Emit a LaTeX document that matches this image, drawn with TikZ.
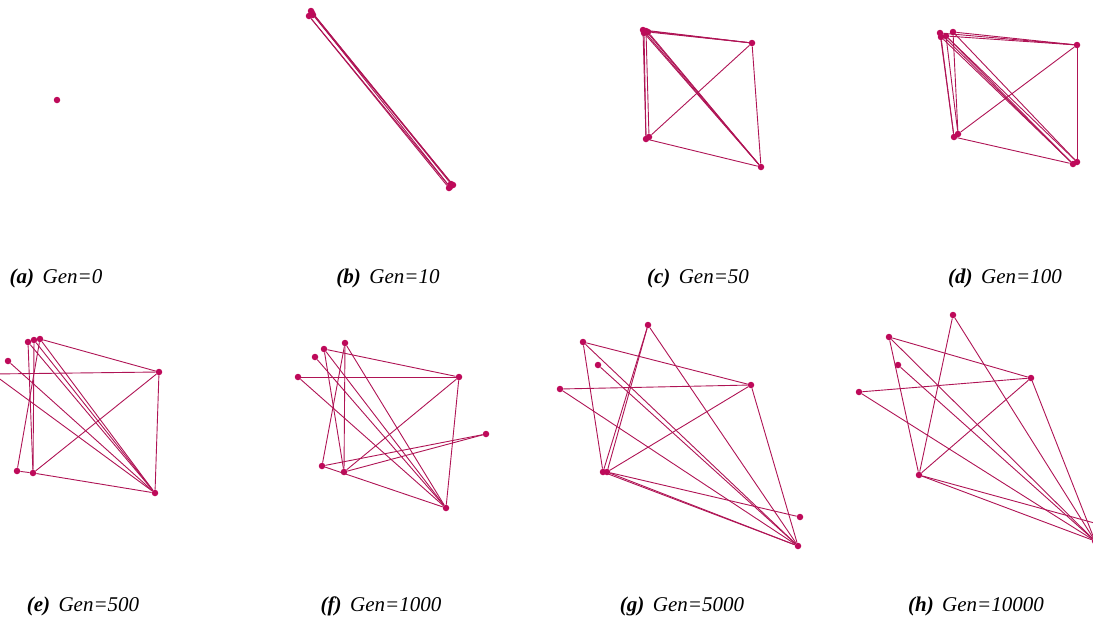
\documentclass[tikz,border=0pt]{standalone}
\usepackage{fontspec}
\setmainfont{Liberation Serif}
\definecolor{graphred}{RGB}{190,10,90}
\definecolor{linered}{RGB}{175,20,85}
\begin{document}
\begin{tikzpicture}[x=1pt,y=-1pt,
    vtx/.style={circle, fill=graphred, inner sep=0pt, minimum size=6.5pt},
    edge/.style={draw=linered, line width=0.9pt},
    lab/.style={font=\fontsize{21}{25}\selectfont\itshape, inner sep=0pt}]
    \useasboundingbox (0,0) rectangle (1093,619);
    % (a) Gen=0
    \node[vtx] (a1) at (57,100) {};
    % (b) Gen=10
    \node[vtx] (b1) at (311,11) {};
    \node[vtx] (b2) at (309,16) {};
    \node[vtx] (b3) at (313,15) {};
    \node[vtx] (b4) at (312,13) {};
    \node[vtx] (b5) at (451,184) {};
    \node[vtx] (b6) at (449,188) {};
    \node[vtx] (b7) at (453,185) {};
    \node[vtx] (b8) at (450,187) {};
    \foreach \s/\t in {b1/b5, b2/b6, b3/b7, b4/b8, b1/b7, b2/b8}
        \draw[edge] (\s) -- (\t);
    % (c) Gen=50
    \node[vtx] (c1) at (643,30) {};
    \node[vtx] (c2) at (646,31) {};
    \node[vtx] (c3) at (644,33) {};
    \node[vtx] (c4) at (648,32) {};
    \node[vtx] (c5) at (752,43) {};
    \node[vtx] (c6) at (646,139) {};
    \node[vtx] (c7) at (649,137) {};
    \node[vtx] (c8) at (761,167) {};
    \foreach \s/\t in {c1/c5, c2/c5, c4/c5, c1/c6, c3/c6, c2/c7, c1/c8, c2/c8,
        c3/c8, c4/c8, c7/c5, c6/c8, c5/c8}
        \draw[edge] (\s) -- (\t);
    % (d) Gen=100
    \node[vtx] (d1) at (940,33) {};
    \node[vtx] (d2) at (941,37) {};
    \node[vtx] (d3) at (946,36) {};
    \node[vtx] (d4) at (953,32) {};
    \node[vtx] (d5) at (1077,45) {};
    \node[vtx] (d6) at (954,137) {};
    \node[vtx] (d7) at (958,134) {};
    \node[vtx] (d8) at (1073,164) {};
    \node[vtx] (d9) at (1077,162) {};
    \foreach \s/\t in {d1/d5, d4/d5, d3/d5, d1/d6, d2/d6, d3/d7, d4/d7, d1/d8,
        d2/d8, d3/d8, d3/d9, d4/d9, d7/d5, d6/d8, d5/d9}
        \draw[edge] (\s) -- (\t);
    % (e) Gen=500
    \node[vtx] (e0) at (-7,374) {};
    \node[vtx] (e1) at (28,342) {};
    \node[vtx] (e2) at (34,340) {};
    \node[vtx] (e3) at (40,339) {};
    \node[vtx] (e4) at (8,361) {};
    \node[vtx] (e5) at (159,372) {};
    \node[vtx] (e6) at (17,471) {};
    \node[vtx] (e7) at (33,473) {};
    \node[vtx] (e8) at (155,493) {};
    \foreach \s/\t in {e3/e5, e0/e5, e0/e8, e4/e8, e1/e8, e2/e8, e3/e8, e6/e3,
        e7/e1, e7/e2, e7/e5, e6/e7, e7/e8, e5/e8}
        \draw[edge] (\s) -- (\t);
    % (f) Gen=1000
    \node[vtx] (f1) at (345,343) {};
    \node[vtx] (f2) at (324,349) {};
    \node[vtx] (f3) at (315,357) {};
    \node[vtx] (f4) at (298,377) {};
    \node[vtx] (f5) at (459,377) {};
    \node[vtx] (f6) at (486,434) {};
    \node[vtx] (f7) at (322,466) {};
    \node[vtx] (f8) at (344,472) {};
    \node[vtx] (f9) at (446,508) {};
    \foreach \s/\t in {f2/f5, f4/f5, f4/f9, f3/f9, f2/f9, f1/f9, f1/f7, f1/f8,
        f2/f8, f7/f6, f8/f6, f8/f5, f7/f9, f5/f9}
        \draw[edge] (\s) -- (\t);
    % (g) Gen=5000
    \node[vtx] (g1) at (648,325) {};
    \node[vtx] (g2) at (583,342) {};
    \node[vtx] (g3) at (598,365) {};
    \node[vtx] (g4) at (560,389) {};
    \node[vtx] (g5) at (751,385) {};
    \node[vtx] (g6) at (603,472) {};
    \node[vtx] (g7) at (607,472) {};
    \node[vtx] (g8) at (800,517) {};
    \node[vtx] (g9) at (798,546) {};
    \foreach \s/\t in {g1/g6, g1/g7, g1/g9, g2/g5, g2/g6, g2/g9, g3/g9, g4/g5,
        g4/g9, g7/g5, g7/g8, g6/g9, g7/g9, g5/g9}
        \draw[edge] (\s) -- (\t);
    % (h) Gen=10000
    \node[vtx] (h1) at (953,315) {};
    \node[vtx] (h2) at (889,337) {};
    \node[vtx] (h3) at (898,365) {};
    \node[vtx] (h4) at (859,392) {};
    \node[vtx] (h5) at (1031,378) {};
    \node[vtx] (h6) at (919,475) {};
    \node[vtx] (h7) at (1095,541) {};
    \node[vtx] (h8) at (1120,530) {};
    \foreach \s/\t in {h1/h6, h1/h7, h2/h5, h2/h6, h2/h7, h3/h7, h4/h5, h4/h7,
        h6/h5, h6/h8, h6/h7, h5/h7}
        \draw[edge] (\s) -- (\t);
    % captions
    \node[lab] (la) at (56,278) {\textbf{(a)}\hspace{0.4em}Gen=0};
    \node[lab] (lb) at (388,278) {\textbf{(b)}\hspace{0.4em}Gen=10};
    \node[lab] (lc) at (698,278) {\textbf{(c)}\hspace{0.4em}Gen=50};
    \node[lab] (ld) at (1005,278) {\textbf{(d)}\hspace{0.4em}Gen=100};
    \node[lab] (le) at (83,606) {\textbf{(e)}\hspace{0.4em}Gen=500};
    \node[lab] (lf) at (381,606) {\textbf{(f)}\hspace{0.4em}Gen=1000};
    \node[lab] (lg) at (682,606) {\textbf{(g)}\hspace{0.4em}Gen=5000};
    \node[lab] (lh) at (976,606) {\textbf{(h)}\hspace{0.4em}Gen=10000};
\end{tikzpicture}
\end{document}
